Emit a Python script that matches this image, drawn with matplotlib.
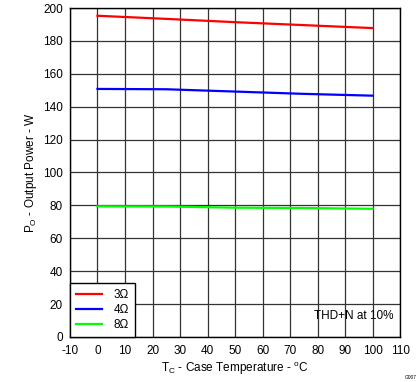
import numpy as np
import matplotlib
matplotlib.use('Agg')
import matplotlib.pyplot as plt

plt.rcParams['font.family'] = ['Liberation Sans', 'DejaVu Sans']
plt.rcParams['axes.unicode_minus'] = False

# 読み取った値
temp = [0, 25, 50, 75, 100]
p_3ohm = [195.3, 193.4, 191.4, 189.6, 187.8]
p_4ohm = [150.8, 150.6, 149.2, 147.8, 146.7]
p_8ohm = [79.4, 79.3, 78.6, 78.4, 77.9]
labels = ['3Ω', '4Ω', '8Ω']
colors = ['#ff0000', '#0000ff', '#00ff00']

fig = plt.figure(figsize=(4.19, 3.82), dpi=100)
ax = fig.add_axes([0.167, 0.118, 0.788, 0.861])

for y, lab, c in zip([p_3ohm, p_4ohm, p_8ohm], labels, colors):
    ax.plot(temp, y, color=c, lw=1.6, label=lab)

ax.set_xlim(-10, 110)
ax.set_ylim(0, 200)
ax.set_xticks(np.arange(-10, 111, 10))
ax.set_yticks(np.arange(0, 201, 20))
ax.grid(True, color='#333333', lw=0.9)
ax.tick_params(length=0, labelsize=8.5)
ax.tick_params(axis='x', pad=6)
ax.tick_params(axis='y', pad=5)
for s in ax.spines.values():
    s.set_color('black')
    s.set_linewidth(1.0)

ax.set_xlabel('T$_\\mathregular{C}$ - Case Temperature - $^\\mathregular{o}$C', fontsize=8.5, labelpad=2)
ax.set_ylabel('P$_\\mathregular{O}$ - Output Power - W', fontsize=8.5, labelpad=3)

leg = ax.legend(loc='lower left', fontsize=8.5, frameon=True, fancybox=False,
                borderaxespad=0, handlelength=2.2, handletextpad=1.0,
                labelspacing=0.25, borderpad=0.5)
leg.get_frame().set_edgecolor('black')
leg.get_frame().set_linewidth(1.0)
leg.get_frame().set_alpha(1)

ax.text(0.98, 0.045, 'THD+N at 10%', transform=ax.transAxes, ha='right', va='bottom', fontsize=8.5)
fig.text(0.995, 0.005, 'G007', ha='right', va='bottom', fontsize=3.5)

fig.savefig('out.png', dpi=100)
